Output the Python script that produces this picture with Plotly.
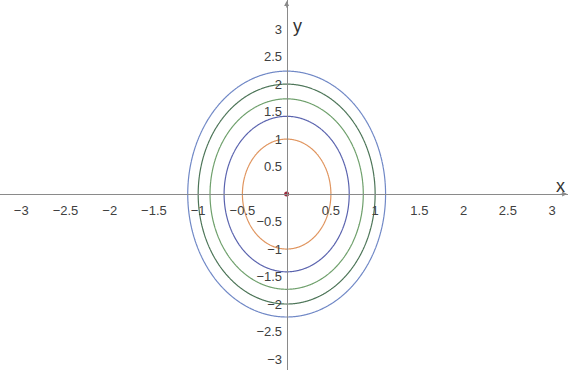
import numpy as np
import plotly.graph_objects as go

# Level sets of f(x, y) = 4x^2 + y^2
levels = [1, 2, 3, 4, 5]
level_colors = ["#e0955f", "#5a63ae", "#6fa06c", "#4d7558", "#7088c6"]

# Axis ticks
x_ticks = [-3, -2.5, -2, -1.5, -1, -0.5, 0.5, 1, 1.5, 2, 2.5, 3]
y_ticks = [-3, -2.5, -2, -1.5, -1, -0.5, 0.5, 1, 1.5, 2, 2.5, 3]
x_tick_text = ["\u22123", "\u22122.5", "\u22122", "\u22121.5", "\u22121", "\u22120.5",
               "0.5", "1", "1.5", "2", "2.5", "3"]
y_tick_text = x_tick_text

x_range = [-3.24, 3.18]
y_range = [-3.2, 3.53]

gx = np.linspace(-1.4, 1.4, 401)
gy = np.linspace(-2.6, 2.6, 401)
XX, YY = np.meshgrid(gx, gy)
Z = 4 * XX ** 2 + YY ** 2

fig = go.Figure()
for lv, col in zip(levels, level_colors):
    fig.add_trace(go.Contour(
        x=gx, y=gy, z=Z,
        contours=dict(start=lv, end=lv, size=1, coloring="none"),
        line=dict(color=col, width=1.2),
        showscale=False, hoverinfo="skip",
    ))

fig.add_trace(go.Scatter(x=[0], y=[0], mode="markers",
                         marker=dict(color="#9c2a3c", size=5), hoverinfo="skip"))

xpos = (0 - y_range[0]) / (y_range[1] - y_range[0])
ypos = (0 - x_range[0]) / (x_range[1] - x_range[0])

axis_font = dict(family="Liberation Sans, Arial, sans-serif", size=13, color="#404040")

fig.update_layout(
    width=568, height=370,
    margin=dict(l=0, r=0, t=0, b=0),
    paper_bgcolor="white", plot_bgcolor="white",
    showlegend=False,
    xaxis=dict(range=x_range, anchor="free", position=xpos, showgrid=False,
               zeroline=False, showline=True, linecolor="#8a8a8a", linewidth=1,
               tickvals=x_ticks, ticktext=x_tick_text, ticks="outside", ticklen=4,
               tickcolor="rgba(0,0,0,0)", tickfont=axis_font, automargin=False),
    yaxis=dict(range=y_range, anchor="free", position=ypos, showgrid=False,
               zeroline=False, showline=True, linecolor="#8a8a8a", linewidth=1,
               tickvals=y_ticks, ticktext=y_tick_text, ticks="outside", ticklen=2,
               tickcolor="rgba(0,0,0,0)", tickfont=axis_font, automargin=False),
)

# Arrow tips and axis names
fig.add_annotation(x=0, y=y_range[1] - 0.02, ax=0, ay=8, text="", showarrow=True,
                   arrowhead=2, arrowsize=1, arrowwidth=1, arrowcolor="#8a8a8a")
fig.add_annotation(x=x_range[1] - 0.01, y=0, ax=-8, ay=0, text="", showarrow=True,
                   arrowhead=2, arrowsize=1, arrowwidth=1, arrowcolor="#8a8a8a")
fig.add_annotation(x=0.12, y=3.05, text="y", showarrow=False,
                   font=dict(family="Liberation Sans, Arial, sans-serif", size=18, color="#333"))
fig.add_annotation(x=3.1, y=0.15, text="x", showarrow=False,
                   font=dict(family="Liberation Sans, Arial, sans-serif", size=18, color="#333"))

fig.write_html("out.html")
